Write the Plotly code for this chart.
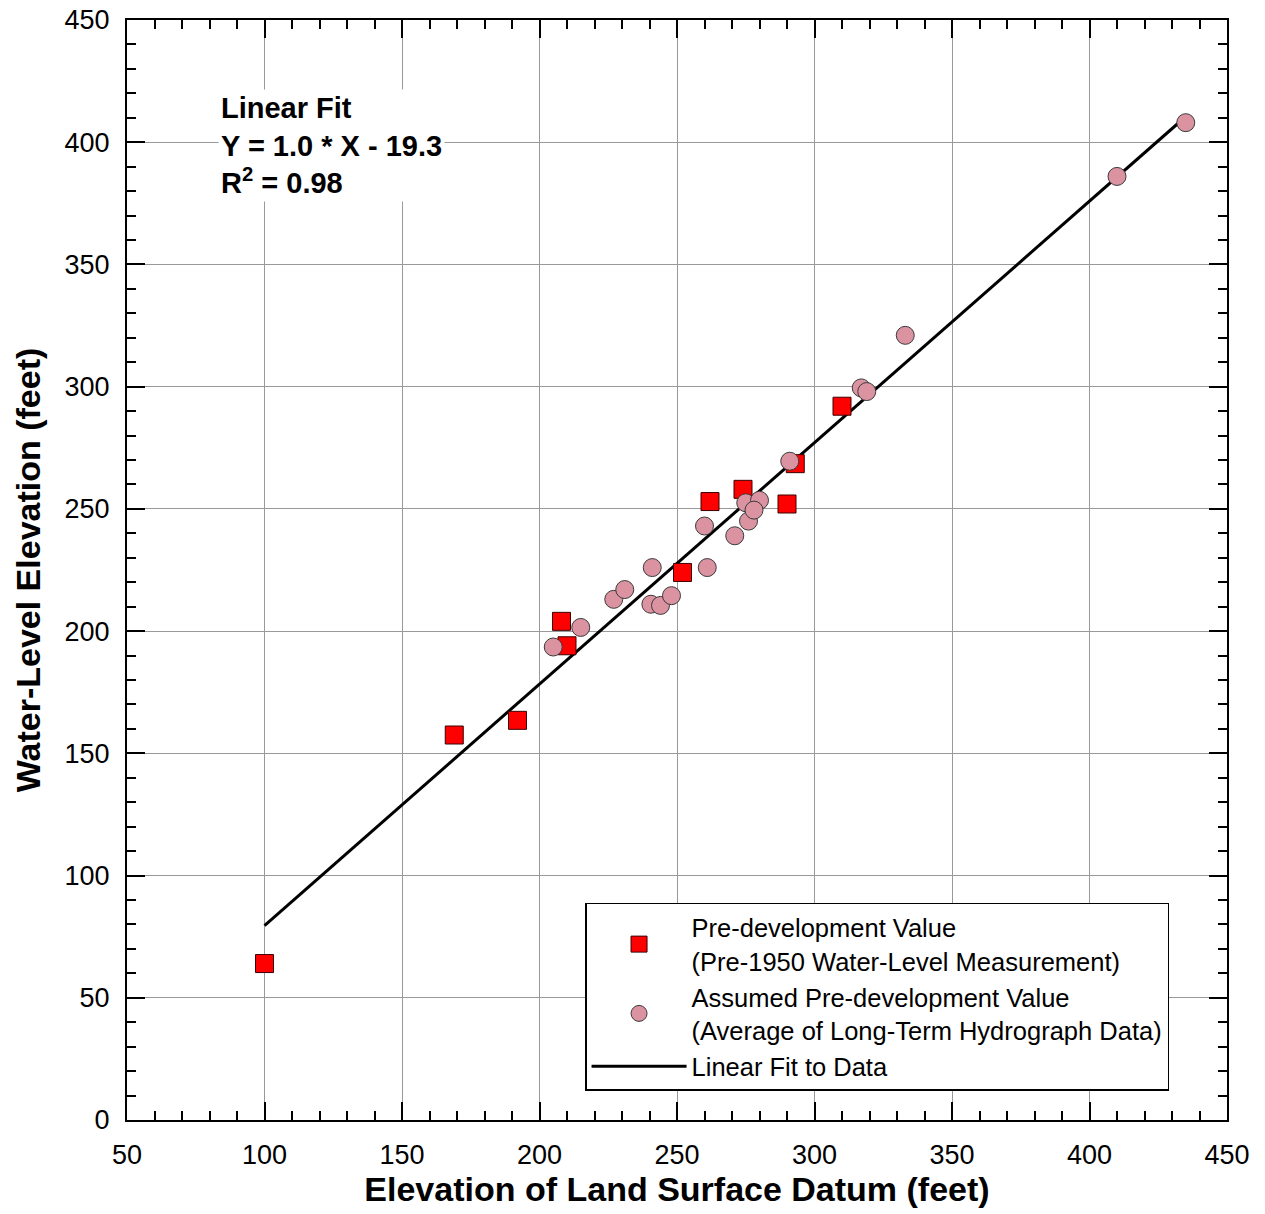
import plotly.graph_objects as go

# Pre-development values (pre-1950 water-level measurements)
sq_x = [100, 169, 192, 208, 210, 252, 262, 274, 290, 293, 310]
sq_y = [64, 157.5, 163.5, 204, 194, 224, 253, 258, 252, 268.5, 292]

# Assumed pre-development values (average of long-term hydrograph data)
ci_x = [205, 215, 227, 231, 241, 240.5, 244, 248, 260, 261, 271, 276, 275, 280, 278, 291, 317, 319, 333, 410, 435]
ci_y = [193.5, 201.5, 213, 217, 226, 211, 210.5, 214.5, 243, 226, 239, 245, 252.5, 253.5, 249.5, 269.5, 299.5, 298, 321, 386, 408]

# Linear fit endpoints
fit_x = [100, 434]
fit_y = [79.5, 409.5]

FONT = "Liberation Sans, Arial, sans-serif"

fig = go.Figure()
fig.add_trace(go.Scatter(
    x=fit_x, y=fit_y, mode="lines", name="Linear Fit to Data",
    line=dict(color="black", width=3), legendrank=3))
fig.add_trace(go.Scatter(
    x=sq_x, y=sq_y, mode="markers",
    name="Pre-development Value<br>(Pre-1950 Water-Level Measurement)",
    marker=dict(symbol="square", size=18, color="#FF0000",
                line=dict(color="#3a0000", width=1)), legendrank=1))
fig.add_trace(go.Scatter(
    x=ci_x, y=ci_y, mode="markers",
    name="Assumed Pre-development Value<br>(Average of Long-Term Hydrograph Data)",
    marker=dict(symbol="circle", size=18, color="#DB93A2",
                line=dict(color="#3a3a3a", width=1)), legendrank=2))

axis_common = dict(
    showline=True, linecolor="black", linewidth=2, mirror="allticks",
    ticks="inside", ticklen=18, tickwidth=1.5, tickcolor="black",
    showgrid=True, gridcolor="#999999", gridwidth=1, zeroline=False,
    automargin=False, ticklabeloverflow="allow", ticklabelstandoff=10,
    tickfont=dict(family=FONT, size=27, color="black"),
)

fig.update_xaxes(
    range=[50, 450], dtick=50, tick0=50,
    minor=dict(dtick=10, ticks="inside", ticklen=9, tickcolor="black", tickwidth=1.5, showgrid=False),
    title=dict(text="<b>Elevation of Land Surface Datum (feet)</b>",
               font=dict(family=FONT, size=34, color="black"), standoff=5),
    **axis_common)
fig.update_yaxes(
    range=[0, 450], dtick=50, tick0=0,
    minor=dict(dtick=10, ticks="inside", ticklen=9, tickcolor="black", tickwidth=1.5, showgrid=False),
    title=dict(text="<b>Water-Level Elevation (feet)</b>",
               font=dict(family=FONT, size=34, color="black"), standoff=14),
    **axis_common)

fig.add_annotation(
    xref="paper", yref="paper", x=0.083, y=0.937,
    xanchor="left", yanchor="top", align="left", showarrow=False,
    text="<b>Linear Fit<br>Y = 1.0 * X - 19.3<br>R<sup>2</sup> = 0.98</b>",
    font=dict(family=FONT, size=29, color="black"),
    bgcolor="white", borderpad=2)

fig.update_layout(
    width=1265, height=1214,
    margin=dict(l=127, r=38, t=20, b=94),
    paper_bgcolor="white", plot_bgcolor="white",
    font=dict(family=FONT, color="black"),
    legend=dict(
        x=0.4164, y=0.1973, xanchor="left", yanchor="top",
        bgcolor="white", bordercolor="black", borderwidth=1.5,
        font=dict(family=FONT, size=25.5, color="black"),
        itemwidth=95),
)

fig.write_html("out.html",
               config={"displayModeBar": False},
               post_script="document.body.style.margin='0';document.body.style.overflow='hidden';")
